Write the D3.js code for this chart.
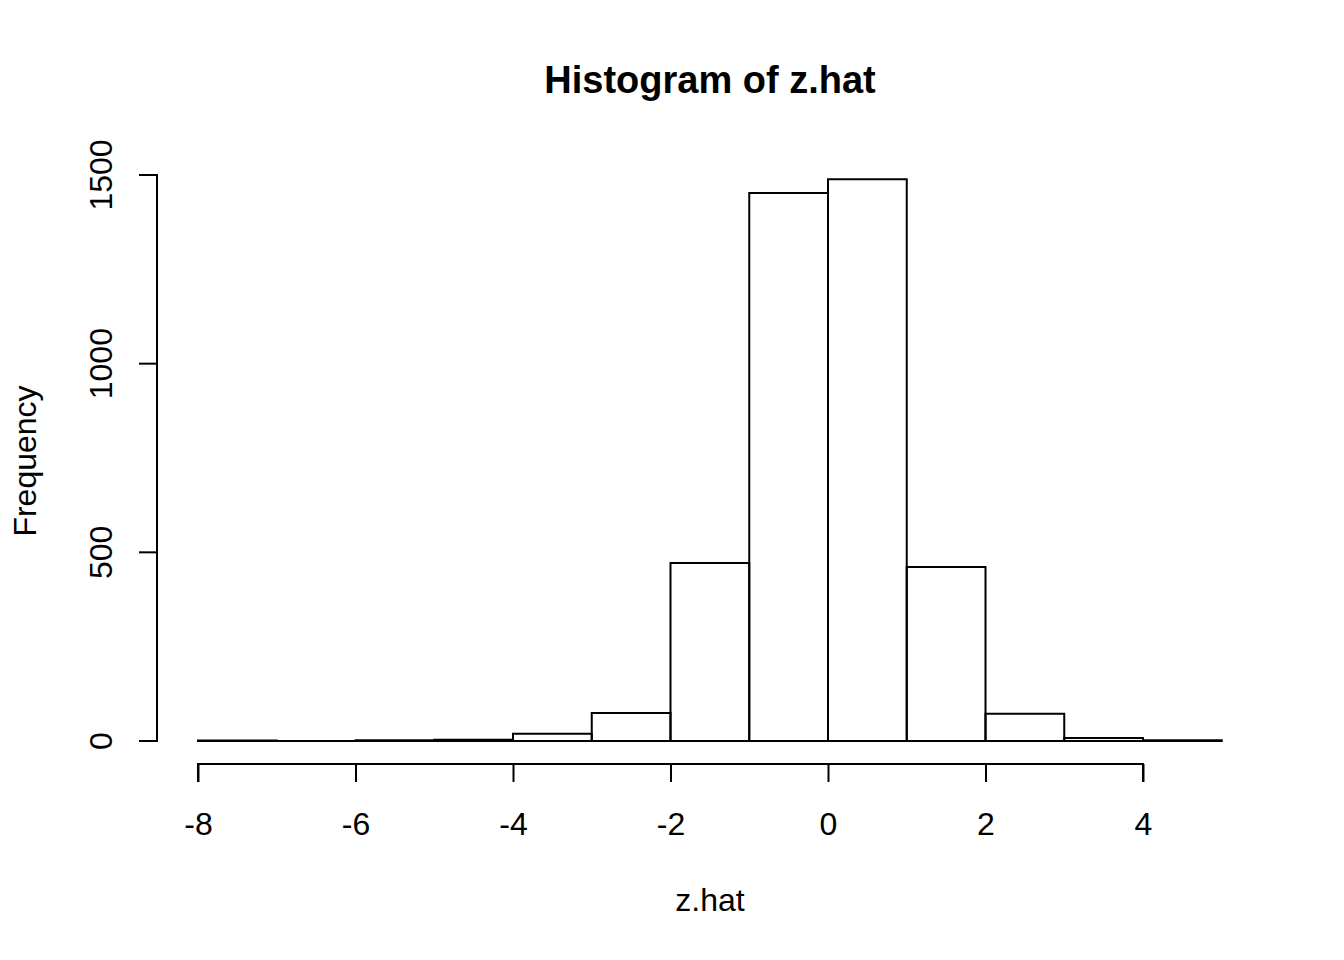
<!DOCTYPE html>
<html><head><meta charset="utf-8">
<script src="https://cdn.jsdelivr.net/npm/d3@7"></script>
<style>body{margin:0;background:#fff}text{font-family:"Liberation Sans",Arial,sans-serif}</style>
</head><body>
<svg id="c" width="1344" height="960"></svg>
<script>
const binStarts = [-8,-7,-6,-5,-4,-3,-2,-1,0,1,2,3,4];
const counts    = [1,0,2,3,19,74,472,1452,1489,461,72,8,2];
const xTicks = [-8,-6,-4,-2,0,2,4];
const yTicks = [0,500,1000,1500];
const binWidth = 1;

const svg = d3.select("#c");
const x = d3.scaleLinear().domain([-8,4]).range([198,1143]);
const y = d3.scaleLinear().domain([0,1500]).range([741,175]);

svg.append("g").selectAll("path").data(binStarts).join("path")
  .attr("d", (d,i)=>{
    const x0=x(d), x1=x(d+binWidth), y0=y(0), y1=y(counts[i]);
    return `M${x0},${y0}V${y1}H${x1}V${y0}Z`;
  })
  .attr("fill","none").attr("stroke","#000").attr("stroke-width",2);

const fmt = d => String(d);
const xa = svg.append("g").attr("transform","translate(0,764)")
  .call(d3.axisBottom(x).tickValues(xTicks).tickSize(18).tickFormat(fmt));
const ya = svg.append("g").attr("transform","translate(157,0)")
  .call(d3.axisLeft(y).tickValues(yTicks).tickSize(18).tickFormat(fmt));
[xa,ya].forEach(a=>{
  a.select(".domain").attr("stroke-width",2).attr("stroke","#000");
  a.selectAll(".tick line").attr("stroke-width",2).attr("stroke","#000");
  a.selectAll("text").attr("font-size",32).attr("fill","#000").attr("font-family","Liberation Sans, Arial, sans-serif");
});
xa.select(".domain").attr("d", `M${x(-8)},18V0H${x(4)}V18`);
xa.selectAll(".tick text").attr("y",71).attr("dy",null);
ya.select(".domain").attr("d", `M-18,${y(0)}H0V${y(1500)}H-18`);
ya.selectAll(".tick").attr("transform",null);
ya.selectAll(".tick line").attr("transform", d=>`translate(0,${y(d)})`);
ya.selectAll(".tick text")
  .attr("transform", d=>`translate(-45.5,${y(d)}) rotate(-90)`).attr("x",0).attr("y",0).attr("dy",null)
  .attr("text-anchor","middle");

svg.append("text").attr("x",710).attr("y",93).attr("text-anchor","middle")
  .attr("font-size",38).attr("font-weight","bold").text("Histogram of z.hat");
svg.append("text").attr("x",710).attr("y",911).attr("text-anchor","middle")
  .attr("font-size",32).text("z.hat");
svg.append("text").attr("transform","translate(36,461) rotate(-90)").attr("text-anchor","middle")
  .attr("font-size",32).text("Frequency");
</script>
</body></html>
